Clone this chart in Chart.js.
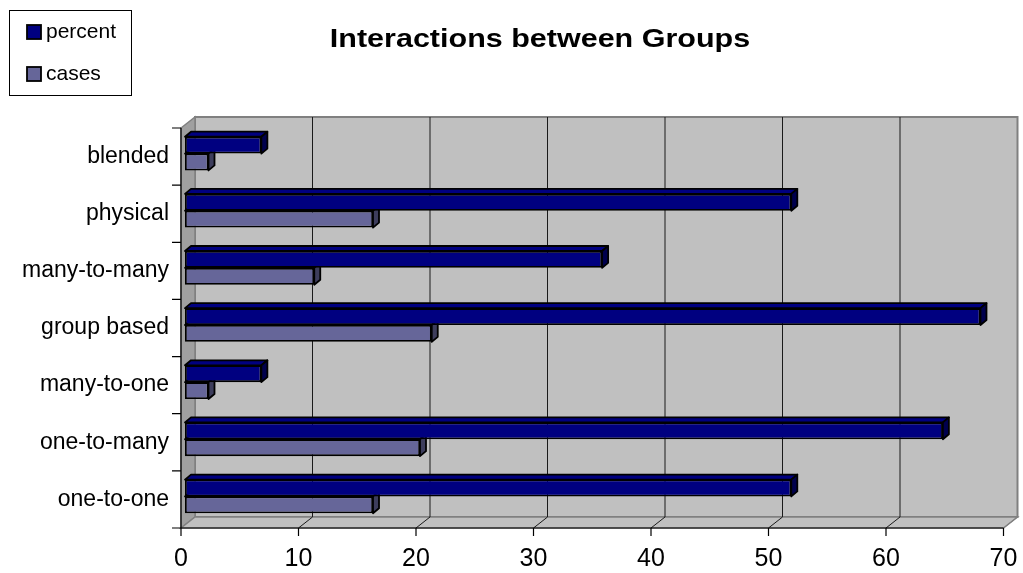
<!DOCTYPE html>
<html>
<head>
<meta charset="utf-8">
<script src="https://cdn.jsdelivr.net/npm/chart.js@4.4.1/dist/chart.umd.min.js"></script>
<style>
  html, body { margin: 0; padding: 0; background: #ffffff; }
  #wrap { width: 1023px; height: 573px; position: relative; }
</style>
</head>
<body>
<div id="wrap"><canvas id="chart"></canvas></div>
<script>
// ---- data ----
const categories = ['blended', 'physical', 'many-to-many', 'group based', 'many-to-one', 'one-to-many', 'one-to-one'];
const percentValues = [6.5, 51.6, 35.5, 67.7, 6.5, 64.5, 51.6];
const casesValues = [2, 16, 11, 21, 2, 20, 16];
const seriesNames = ['percent', 'cases'];
const xTickValues = [0, 10, 20, 30, 40, 50, 60, 70];
const chartTitle = 'Interactions between Groups';

// ---- styles ----
const FONT = '"Liberation Sans", Arial, Helvetica, sans-serif';
const frontColors = ['#000080', '#666699'];
const topColors = ['#000080', '#666699'];
const sideColors = ['#00004d', '#3d3d5c'];
const WALL = '#c0c0c0', SIDE_WALL = '#a0a0a0', WALL_EDGE = '#808080';
// offsets of the front and back planes relative to the plane the bars sit in
const FRONT = { dx: -4, dy: 3 };
const BACK = { dx: 10, dy: -8 };
// depth of each bar
const BAR_DX = 6, BAR_DY = 5;
const OUTLINE = 1.8;

function poly(ctx, pts, fill, stroke, lw) {
  ctx.beginPath();
  ctx.moveTo(pts[0][0], pts[0][1]);
  for (let i = 1; i < pts.length; i++) ctx.lineTo(pts[i][0], pts[i][1]);
  ctx.closePath();
  if (fill) { ctx.fillStyle = fill; ctx.fill(); }
  if (stroke) { ctx.strokeStyle = stroke; ctx.lineWidth = lw || 1; ctx.stroke(); }
}

// walls, floor, gridlines and the front axis lines
const room3d = {
  id: 'room3d',
  beforeDraw(chart) {
    const { ctx, chartArea: a, scales } = chart;
    const xs = scales.x, ys = scales.y;
    const L = a.left, R = a.right, T = a.top, B = a.bottom;
    const last = xTickValues[xTickValues.length - 1];
    ctx.save();
    // back wall
    poly(ctx, [[L + BACK.dx, T + BACK.dy], [R + BACK.dx, T + BACK.dy], [R + BACK.dx, B + BACK.dy], [L + BACK.dx, B + BACK.dy]], WALL, WALL_EDGE, 2);
    // left side wall
    poly(ctx, [[L + FRONT.dx, T + FRONT.dy], [L + BACK.dx, T + BACK.dy], [L + BACK.dx, B + BACK.dy], [L + FRONT.dx, B + FRONT.dy]], SIDE_WALL, WALL_EDGE, 1.5);
    // floor
    poly(ctx, [[L + FRONT.dx, B + FRONT.dy], [L + BACK.dx, B + BACK.dy], [R + BACK.dx, B + BACK.dy], [R + FRONT.dx, B + FRONT.dy]], WALL, WALL_EDGE, 1.5);
    // gridlines on the back wall and across the floor
    xTickValues.forEach(v => {
      if (v === xTickValues[0]) return;
      const px = xs.getPixelForValue(v);
      ctx.strokeStyle = v === last ? WALL_EDGE : '#1a1a1a';
      ctx.lineWidth = 1;
      ctx.beginPath();
      if (v !== last) {
        ctx.moveTo(px + BACK.dx, T + BACK.dy);
        ctx.lineTo(px + BACK.dx, B + BACK.dy);
      }
      ctx.moveTo(px + BACK.dx, B + BACK.dy);
      ctx.lineTo(px + FRONT.dx, B + FRONT.dy);
      ctx.stroke();
    });
    // front value axis with tick marks
    ctx.strokeStyle = '#000';
    ctx.lineWidth = 1.2;
    ctx.beginPath();
    ctx.moveTo(L + FRONT.dx, B + FRONT.dy);
    ctx.lineTo(R + FRONT.dx, B + FRONT.dy);
    xTickValues.forEach(v => {
      const px = xs.getPixelForValue(v) + FRONT.dx;
      ctx.moveTo(px, B + FRONT.dy);
      ctx.lineTo(px, B + FRONT.dy + 8);
    });
    // front category axis with tick marks at band edges
    ctx.moveTo(L + FRONT.dx, T + FRONT.dy);
    ctx.lineTo(L + FRONT.dx, B + FRONT.dy);
    for (let i = 0; i <= categories.length; i++) {
      const py = ys.getPixelForValue(i - 0.5) + FRONT.dy;
      ctx.moveTo(L + FRONT.dx - 9, py);
      ctx.lineTo(L + FRONT.dx, py);
    }
    ctx.stroke();
    ctx.restore();
  },
  // top and side faces of every bar, drawn under the front faces
  beforeDatasetsDraw(chart) {
    const ctx = chart.ctx;
    ctx.save();
    ctx.lineJoin = 'round';
    chart.data.datasets.forEach((ds, d) => {
      const meta = chart.getDatasetMeta(d);
      meta.data.forEach(bar => {
        const p = bar.getProps(['x', 'y', 'base', 'height'], true);
        const x0 = Math.min(p.base, p.x), x1 = Math.max(p.base, p.x);
        const yt = p.y - p.height / 2, yb = p.y + p.height / 2;
        poly(ctx, [[x0, yt], [x0 + BAR_DX, yt - BAR_DY], [x1 + BAR_DX, yt - BAR_DY], [x1, yt]], topColors[d], '#000', OUTLINE);
        poly(ctx, [[x1, yt], [x1 + BAR_DX, yt - BAR_DY], [x1 + BAR_DX, yb - BAR_DY], [x1, yb]], sideColors[d], '#000', OUTLINE);
      });
    });
    ctx.restore();
  },
  // title and boxed legend
  afterDraw(chart) {
    const ctx = chart.ctx;
    ctx.save();
    ctx.fillStyle = '#000';
    ctx.font = 'bold 25px ' + FONT;
    ctx.textAlign = 'center';
    ctx.textBaseline = 'alphabetic';
    ctx.translate(540, 47);
    ctx.scale(1.22, 1);
    ctx.fillText(chartTitle, 0, 0);
    ctx.restore();

    ctx.save();
    ctx.fillStyle = '#fff';
    ctx.fillRect(9.5, 10.5, 122, 85);
    ctx.strokeStyle = '#000';
    ctx.lineWidth = 1;
    ctx.strokeRect(9.5, 10.5, 122, 85);
    ctx.font = '21px ' + FONT;
    ctx.textAlign = 'left';
    ctx.textBaseline = 'alphabetic';
    chart.data.datasets.forEach((ds, d) => {
      const top = 25 + d * 42;
      ctx.fillStyle = ds.backgroundColor;
      ctx.fillRect(27, top, 14, 14);
      ctx.lineWidth = 1.8;
      ctx.strokeStyle = '#000';
      ctx.strokeRect(27, top, 14, 14);
      ctx.fillStyle = '#000';
      ctx.fillText(ds.label, 46, top + 13);
    });
    ctx.restore();
  }
};

new Chart(document.getElementById('chart'), {
  type: 'bar',
  data: {
    labels: categories,
    datasets: [
      { label: seriesNames[0], data: percentValues, backgroundColor: frontColors[0] },
      { label: seriesNames[1], data: casesValues, backgroundColor: frontColors[1] }
    ]
  },
  options: {
    indexAxis: 'y',
    responsive: true,
    maintainAspectRatio: false,
    animation: false,
    events: [],
    layout: { padding: { top: 125, right: 15.5, bottom: 0, left: 0 } },
    datasets: {
      bar: {
        borderColor: '#000',
        borderWidth: OUTLINE,
        borderSkipped: false,
        categoryPercentage: 0.59,
        barPercentage: 1
      }
    },
    plugins: {
      legend: { display: false },
      title: { display: false },
      tooltip: { enabled: false }
    },
    scales: {
      x: {
        min: 0,
        max: 70,
        afterBuildTicks(s) { s.ticks = xTickValues.map(v => ({ value: v })); },
        afterFit(s) { s.height = 48; s.paddingLeft = 0; s.paddingRight = 0; },
        grid: { display: false, drawTicks: false },
        border: { display: false },
        ticks: { padding: 19, labelOffset: FRONT.dx, color: '#000', font: { family: FONT, size: 25 } }
      },
      y: {
        afterFit(s) { s.width = 185; s.paddingTop = 0; s.paddingBottom = 0; },
        grid: { display: false, drawTicks: false },
        border: { display: false },
        ticks: { padding: 16, labelOffset: FRONT.dy, color: '#000', font: { family: FONT, size: 23 } }
      }
    }
  },
  plugins: [room3d]
});
</script>
</body>
</html>
